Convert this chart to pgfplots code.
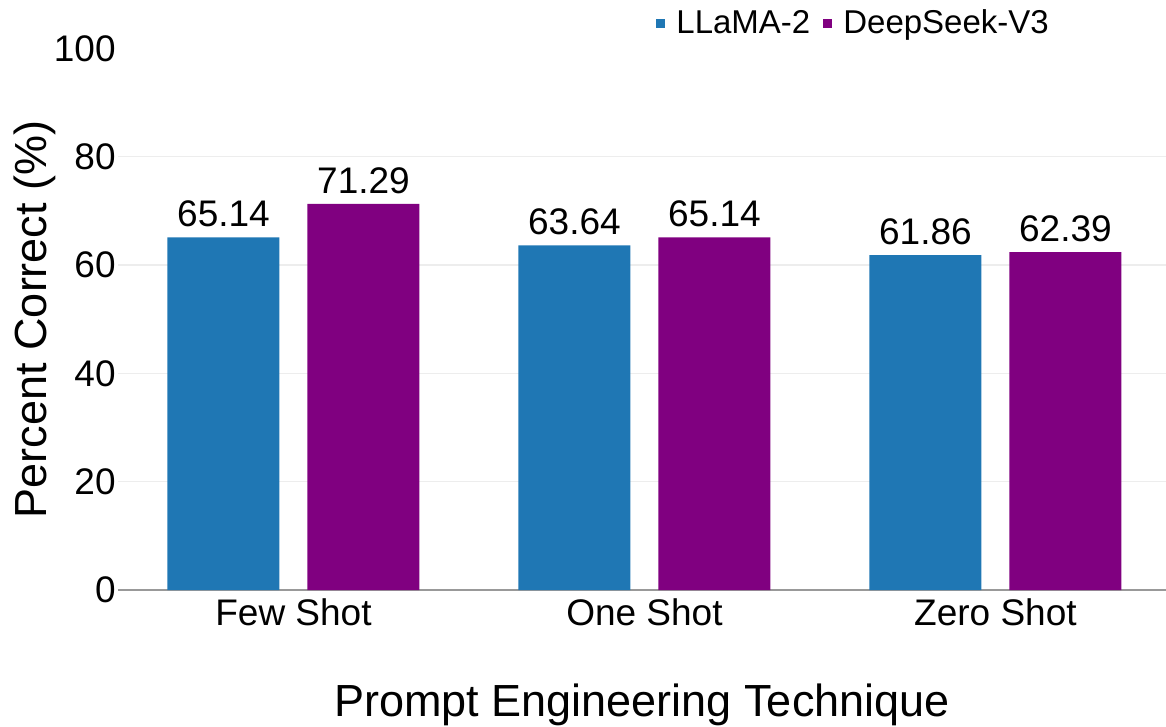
\documentclass[border=0pt]{standalone}
\usepackage{pgfplots}
\pgfplotsset{compat=1.18}
\usepackage{fontspec}
\setmainfont{Liberation Sans}
\definecolor{cblue}{HTML}{1F77B4}
\definecolor{cpurple}{HTML}{800080}
\begin{document}
\begin{tikzpicture}
\begin{axis}[
  name=ax,
  scale only axis, width=524pt, height=270.75pt,
  xmin=-0.5, xmax=2.486, ymin=0, ymax=100,
  ybar=14pt, bar width=56pt,
  xtick={0,1,2}, xticklabels={Few Shot, One Shot, Zero Shot},
  ytick={20,40,60,80}, extra y ticks={0,100}, extra y tick style={grid=none},
  ymajorgrids, grid style={color=black!7, line width=0.6pt},
  axis x line*=bottom, axis y line*=left,
  x axis line style={-, color=black!40, line width=0.9pt},
  y axis line style={draw=none},
  major tick length=0pt,
  tick label style={font=\fontsize{18.5}{22}\selectfont},
  /pgf/number format/assume math mode=true,
  yticklabel style={inner xsep=1pt},
  xticklabel style={inner ysep=4pt},
  nodes near coords,
  nodes near coords style={font=\fontsize{18.5}{22}\selectfont, inner ysep=5pt, /pgf/number format/.cd, fixed, precision=2, fixed zerofill},
  xlabel={Prompt Engineering Technique},
  ylabel={Percent Correct (\%)},
  label style={font=\fontsize{22.5}{27}\selectfont},
  xlabel style={at={(axis description cs:0.5,-0.2327)}, anchor=base},
  ylabel style={at={(axis description cs:-0.0678,0.5)}, anchor=base},
  legend style={at={(axis description cs:0.5134,1.047)}, anchor=west, draw=none, fill=none, inner sep=0pt,
    font=\fontsize{16.5}{20}\selectfont, legend columns=2,
    /tikz/every odd column/.append style={column sep=3.5pt},
    /tikz/every even column/.append style={column sep=4.5pt}},
  legend image code/.code={\draw[#1, draw=none] (0pt,-2.25pt) rectangle (4.5pt,2.25pt);},
  clip=false,
]
\addplot[fill=cblue, draw=none] coordinates {(0,65.14) (1,63.64) (2,61.86)};
\addplot[fill=cpurple, draw=none] coordinates {(0,71.29) (1,65.14) (2,62.39)};
\legend{LLaMA-2, DeepSeek-V3}
\end{axis}
\pgfresetboundingbox
\path[use as bounding box] ([xshift=-59pt,yshift=-68.5pt]ax.south west) rectangle ([yshift=24.25pt]ax.north east);
\end{tikzpicture}
\end{document}
